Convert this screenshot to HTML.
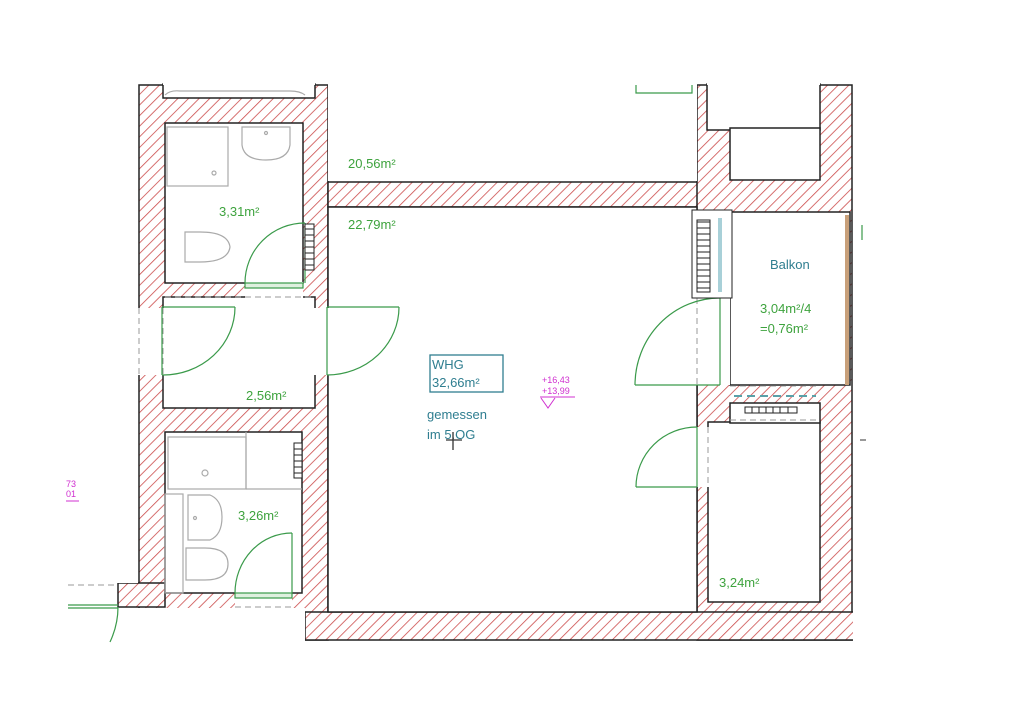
<!DOCTYPE html>
<html><head><meta charset="utf-8"><style>
html,body{margin:0;padding:0;background:#fff;width:1024px;height:724px;overflow:hidden}
svg{display:block}
text{font-family:"Liberation Sans",sans-serif}
</style></head><body>
<svg width="1024" height="724" viewBox="0 0 1024 724" xmlns="http://www.w3.org/2000/svg">
<defs>
<pattern id="h" width="7.5" height="7.5" patternUnits="userSpaceOnUse" patternTransform="rotate(45)">
<rect width="7.5" height="7.5" fill="#fff"/>
<line x1="0" y1="0" x2="0" y2="7.5" stroke="#cc4c4c" stroke-width="1.6"/>
</pattern>
</defs>
<rect width="1024" height="724" fill="#fff"/>
<g fill="url(#h)" stroke="#222" stroke-width="1.5">
<rect x="139" y="85" width="189" height="555"/>
<rect x="118" y="583" width="47" height="24"/>
<rect x="328" y="182" width="372" height="25"/>
<rect x="697" y="85" width="155" height="555"/>
<rect x="305" y="612" width="550" height="28"/>
</g>
<g fill="#fff" stroke="#222" stroke-width="1.5">
<rect x="163" y="84" width="152" height="14"/>
<rect x="165" y="123" width="138" height="160"/>
<rect x="163" y="297" width="152" height="111"/>
<rect x="165" y="432" width="137" height="161"/>
<rect x="328" y="207" width="369" height="405"/>
<rect x="707" y="84" width="113" height="46"/>
<rect x="730" y="128" width="90" height="52"/>
<rect x="730" y="212" width="120" height="173"/>
<rect x="708" y="422" width="112" height="180"/>
<rect x="730" y="403" width="90" height="20"/>
</g>
<g fill="#fff" stroke="none">
<rect x="128" y="308" width="38" height="67"/>
<rect x="302" y="308" width="30" height="67"/>
<rect x="245" y="282" width="58" height="16"/>
<rect x="235" y="592" width="57" height="16"/>
<rect x="100" y="608" width="205" height="40"/>
<rect x="690" y="298" width="40" height="87"/>
<rect x="692" y="427" width="17" height="60"/>
<rect x="100" y="80" width="38" height="503"/>
<rect x="707" y="80" width="113" height="5"/>
<rect x="163" y="80" width="152" height="5"/>
<rect x="328" y="80" width="369" height="101"/>
<rect x="853" y="80" width="20" height="570"/>
<rect x="100" y="641" width="780" height="20"/>
</g>
<g stroke="#999" stroke-width="1" stroke-dasharray="6,4" fill="none">
<line x1="139" y1="308" x2="139" y2="375"/><line x1="163" y1="308" x2="163" y2="375"/>
<line x1="165" y1="297" x2="315" y2="297"/>
<line x1="697" y1="298" x2="697" y2="385"/>
<line x1="708" y1="427" x2="708" y2="487"/>
<line x1="68" y1="585" x2="118" y2="585"/>
<line x1="235" y1="607" x2="292" y2="607"/>
<line x1="730" y1="386" x2="818" y2="386"/>
<line x1="730" y1="420" x2="818" y2="420"/>
</g>
<g stroke="#3a9a4a" stroke-width="1.2" fill="none">
<line x1="305" y1="223" x2="305" y2="283"/><path d="M305 223 A60 60 0 0 0 245 283"/>
<rect x="245" y="283" width="58" height="5" fill="#dff0df"/>
<line x1="162" y1="307" x2="162" y2="375"/><line x1="162" y1="307" x2="235" y2="307"/><path d="M235 307 A72 68 0 0 1 162 375"/>
<line x1="327" y1="307" x2="327" y2="375"/><line x1="327" y1="307" x2="399" y2="307"/><path d="M399 307 A72 68 0 0 1 327 375"/>
<line x1="720" y1="298" x2="720" y2="385"/><line x1="635" y1="385" x2="720" y2="385"/><path d="M720 298 A85 87 0 0 0 635 385"/>
<line x1="697" y1="427" x2="697" y2="487"/><line x1="636" y1="487" x2="697" y2="487"/><path d="M697 427 A61 60 0 0 0 636 487"/>
<line x1="292" y1="533" x2="292" y2="593"/><path d="M292 533 A57 60 0 0 0 235 593"/>
<rect x="235" y="593" width="57" height="5" fill="#dff0df"/>
<line x1="68" y1="605" x2="118" y2="605"/><line x1="68" y1="608" x2="118" y2="608"/><path d="M118 607 Q118 625 110 642"/>
<path d="M636 85 V93 H692 V85"/>
<line x1="862" y1="225" x2="862" y2="240"/>
</g>
<line x1="860" y1="440" x2="866" y2="440" stroke="#333"/>
<g stroke="#aaa" stroke-width="1.2" fill="none">
<path d="M165 95 Q170 90 180 91 H290 Q300 91 305 95"/>
<rect x="167" y="127" width="61" height="59"/><circle cx="214" cy="173" r="2"/>
<path d="M242 127 H290 V145 Q288 160 266 160 Q244 160 242 145 Z"/><circle cx="266" cy="133" r="1.5"/>
<path d="M185 232 H200 Q228 232 230 247 Q228 262 200 262 H185 Z"/>
<rect x="168" y="437" width="78" height="52"/><line x1="246" y1="432" x2="246" y2="489"/><line x1="246" y1="489" x2="302" y2="489"/><circle cx="205" cy="473" r="3"/>
<path d="M188 495 H210 Q222 500 222 517 Q222 535 210 540 H188 Z"/><circle cx="195" cy="518" r="1.5"/>
<path d="M186 548 H205 Q228 548 228 564 Q228 580 205 580 H186 Z"/>
<rect x="165" y="494" width="18" height="99"/>
</g>
<g fill="#fff" stroke="#222" stroke-width="1">
<rect x="305" y="224" width="9" height="46"/>
<rect x="294" y="443" width="8" height="35"/>
<rect x="692" y="210" width="40" height="88"/>
<rect x="745" y="407" width="52" height="6"/>
</g>
<g stroke="#222" stroke-width="1">
<path d="M305 229H314M305 235H314M305 241H314M305 247H314M305 253H314M305 259H314M305 265H314"/>
<path d="M294 449H302M294 455H302M294 461H302M294 467H302M294 473H302"/>
<path d="M697 222H710M697 228H710M697 234H710M697 240H710M697 246H710M697 252H710M697 258H710M697 264H710M697 270H710M697 276H710M697 282H710M697 288H710"/>
<rect x="697" y="220" width="13" height="72" fill="none"/>
<path d="M752 407V413M759 407V413M766 407V413M773 407V413M780 407V413M788 407V413"/>
</g>
<rect x="718" y="218" width="4" height="74" fill="#a8d0d8"/>
<line x1="734" y1="396" x2="816" y2="396" stroke="#5aa0a8" stroke-width="2" stroke-dasharray="8,5"/>
<rect x="845" y="215" width="4" height="170" fill="#c8a07a"/>
<g fill="#3ea33e" font-size="13">
<text x="348" y="168">20,56m²</text>
<text x="348" y="229">22,79m²</text>
<text x="219" y="216">3,31m²</text>
<text x="246" y="400">2,56m²</text>
<text x="238" y="520">3,26m²</text>
<text x="719" y="587">3,24m²</text>
<text x="760" y="313">3,04m²/4</text>
<text x="760" y="333">=0,76m²</text>
</g>
<g fill="#2f7e90" font-size="13">
<text x="770" y="269">Balkon</text>
<text x="432" y="369">WHG</text>
<text x="432" y="387">32,66m²</text>
<text x="427" y="419">gemessen</text>
<text x="427" y="439">im 5.OG</text>
</g>
<rect x="430" y="355" width="73" height="37" fill="none" stroke="#2f7e90" stroke-width="1.3"/>
<path d="M453 432V450M446 440H462" stroke="#333" stroke-width="1.3"/>
<g fill="#d030d0" font-size="9">
<text x="542" y="383">+16,43</text>
<text x="542" y="394">+13,99</text>
<text x="66" y="487">73</text>
<text x="66" y="497">01</text>
</g>
<path d="M540 397H575M541 398L548 408L555 398" stroke="#d030d0" fill="none" stroke-width="1"/>
<line x1="66" y1="501" x2="79" y2="501" stroke="#d030d0"/>
</svg>
</body></html>
